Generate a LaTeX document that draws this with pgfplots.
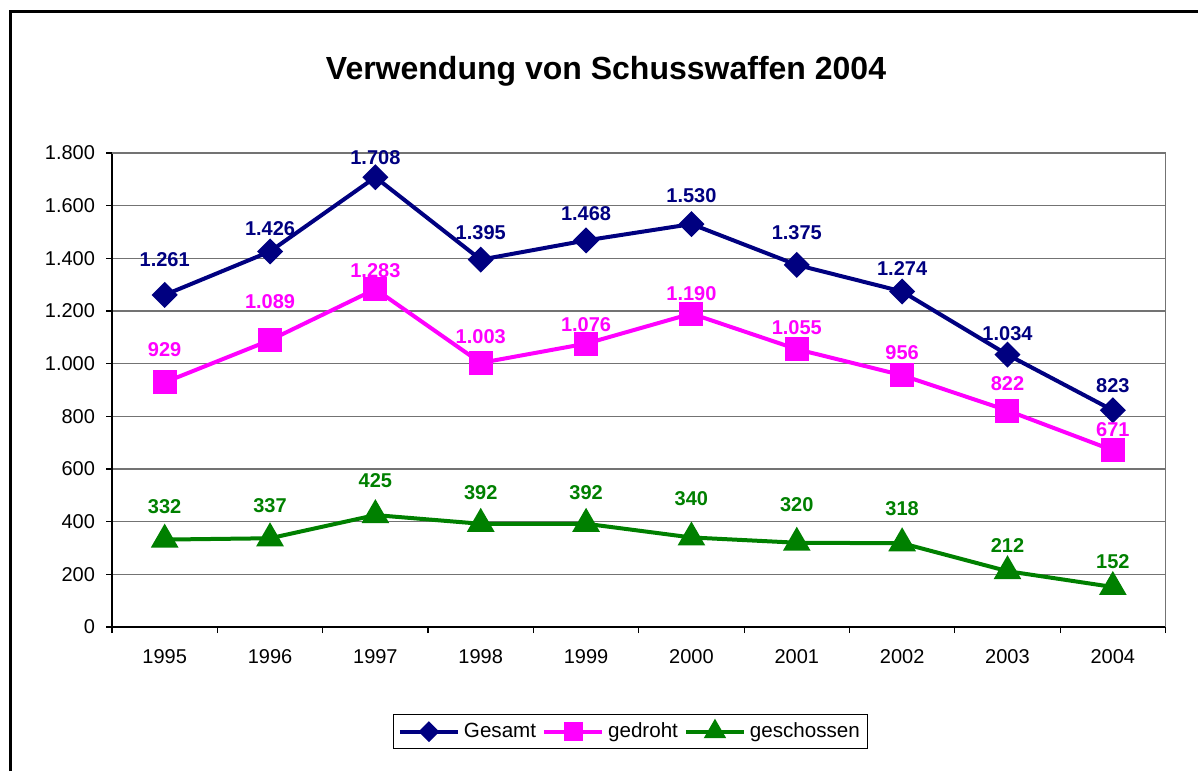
\documentclass[border=0pt]{standalone}
\usepackage{pgfplots}
\usepackage{pgfplotstable}
\pgfplotsset{compat=1.18}
\usepackage{fontspec}
\setmainfont{Liberation Sans}
\definecolor{cgesamt}{RGB}{0,0,128}
\definecolor{cgedroht}{RGB}{255,0,255}
\definecolor{cgesch}{RGB}{0,128,0}

\pgfplotstableread{
x y ly lab
0 1261 1394 1.261
1 1426 1511 1.426
2 1708 1781 1.708
3 1395 1497 1.395
4 1468 1568 1.468
5 1530 1637 1.530
6 1375 1496 1.375
7 1274 1360 1.274
8 1034 1113 1.034
9 823 915 823
}\gesamt

\pgfplotstableread{
x y ly lab
0 929 1052 929
1 1089 1234 1.089
2 1283 1352 1.283
3 1003 1101 1.003
4 1076 1147 1.076
5 1190 1265 1.190
6 1055 1135 1.055
7 956 1041 956
8 822 923 822
9 671 748 671
}\gedroht

\pgfplotstableread{
x y ly lab
0 332 456 332
1 337 460 337
2 425 554 425
3 392 509 392
4 392 509 392
5 340 486 340
6 320 463 320
7 318 448 318
8 212 311 212
9 152 247 152
}\geschossen

\begin{document}
\begin{tikzpicture}
\useasboundingbox (0,0) rectangle (599pt,385.5pt);
\draw[line width=1.75pt] (5.15pt,0pt) -- (5.15pt,379.65pt) -- (605pt,379.65pt);
\node[font=\fontsize{16}{19}\selectfont\bfseries] at (303pt,349.8pt) {Verwendung von Schusswaffen 2004};
\begin{axis}[
  at={(56pt,72pt)}, anchor=south west,
  scale only axis, width=526.75pt, height=237pt,
  xmin=-0.5, xmax=9.5, ymin=0, ymax=1800,
  axis x line*=bottom, axis y line*=left,
  axis line style={black, line width=0.8pt},
  ytick={0,200,...,1800},
  /pgf/number format/1000 sep={.},
  /pgf/number format/assume math mode=true,
  yticklabel style={font=\fontsize{10}{12}\selectfont, xshift=-2pt},
  xticklabel style={font=\fontsize{10}{12}\selectfont, yshift=-4.5pt},
  xtick={0,...,9},
  xticklabels={1995,1996,1997,1998,1999,2000,2001,2002,2003,2004},
  minor xtick={-0.5,0.5,...,9.5},
  major x tick style={draw=none},
  minor tick length=3pt,
  major tick length=3pt,
  tick align=outside,
  tick style={black, line width=0.6pt},
  ymajorgrids,
  major grid style={black!55, line width=0.6pt},
  clip=false,
  legend columns=3,
  legend style={at={(0.4926,-0.2209)}, anchor=center, draw=black, line width=0.5pt,
    font=\fontsize{10.3}{12}\selectfont, inner xsep=2pt, inner ysep=2pt,
    /tikz/every even column/.append style={column sep=1pt}},
  legend image code/.code={\draw[mark repeat=2,mark phase=2,every mark/.append style={scale=0.75}] plot coordinates {(0pt,0pt)(14.5pt,0pt)(29pt,0pt)};},
  every node near coord/.append style={anchor=center, inner sep=0pt, font=\fontsize{10}{12}\selectfont\bfseries},
]
\draw[black!55, line width=0.8pt] (rel axis cs:0,1) -- (rel axis cs:1,1) -- (rel axis cs:1,0);
\addplot[cgesamt, line width=2pt, mark=square*, mark size=3.6pt, mark options={rotate=45, solid}] table[x=x,y=y] {\gesamt};
\addlegendentry{Gesamt}
\addplot[cgedroht, line width=2pt, mark=square*, mark size=5pt, mark options={solid}] table[x=x,y=y] {\gedroht};
\addlegendentry{gedroht}
\addplot[cgesch, line width=2pt, mark=triangle*, mark size=6pt, mark options={solid}] table[x=x,y=y] {\geschossen};
\addlegendentry{geschossen}
\addplot[forget plot, draw=none, mark=none, nodes near coords, point meta=explicit symbolic, every node near coord/.append style={text=cgesamt}] table[x=x,y=ly,meta=lab] {\gesamt};
\addplot[forget plot, draw=none, mark=none, nodes near coords, point meta=explicit symbolic, every node near coord/.append style={text=cgedroht}] table[x=x,y=ly,meta=lab] {\gedroht};
\addplot[forget plot, draw=none, mark=none, nodes near coords, point meta=explicit symbolic, every node near coord/.append style={text=cgesch}] table[x=x,y=ly,meta=lab] {\geschossen};
\end{axis}
\end{tikzpicture}
\end{document}
